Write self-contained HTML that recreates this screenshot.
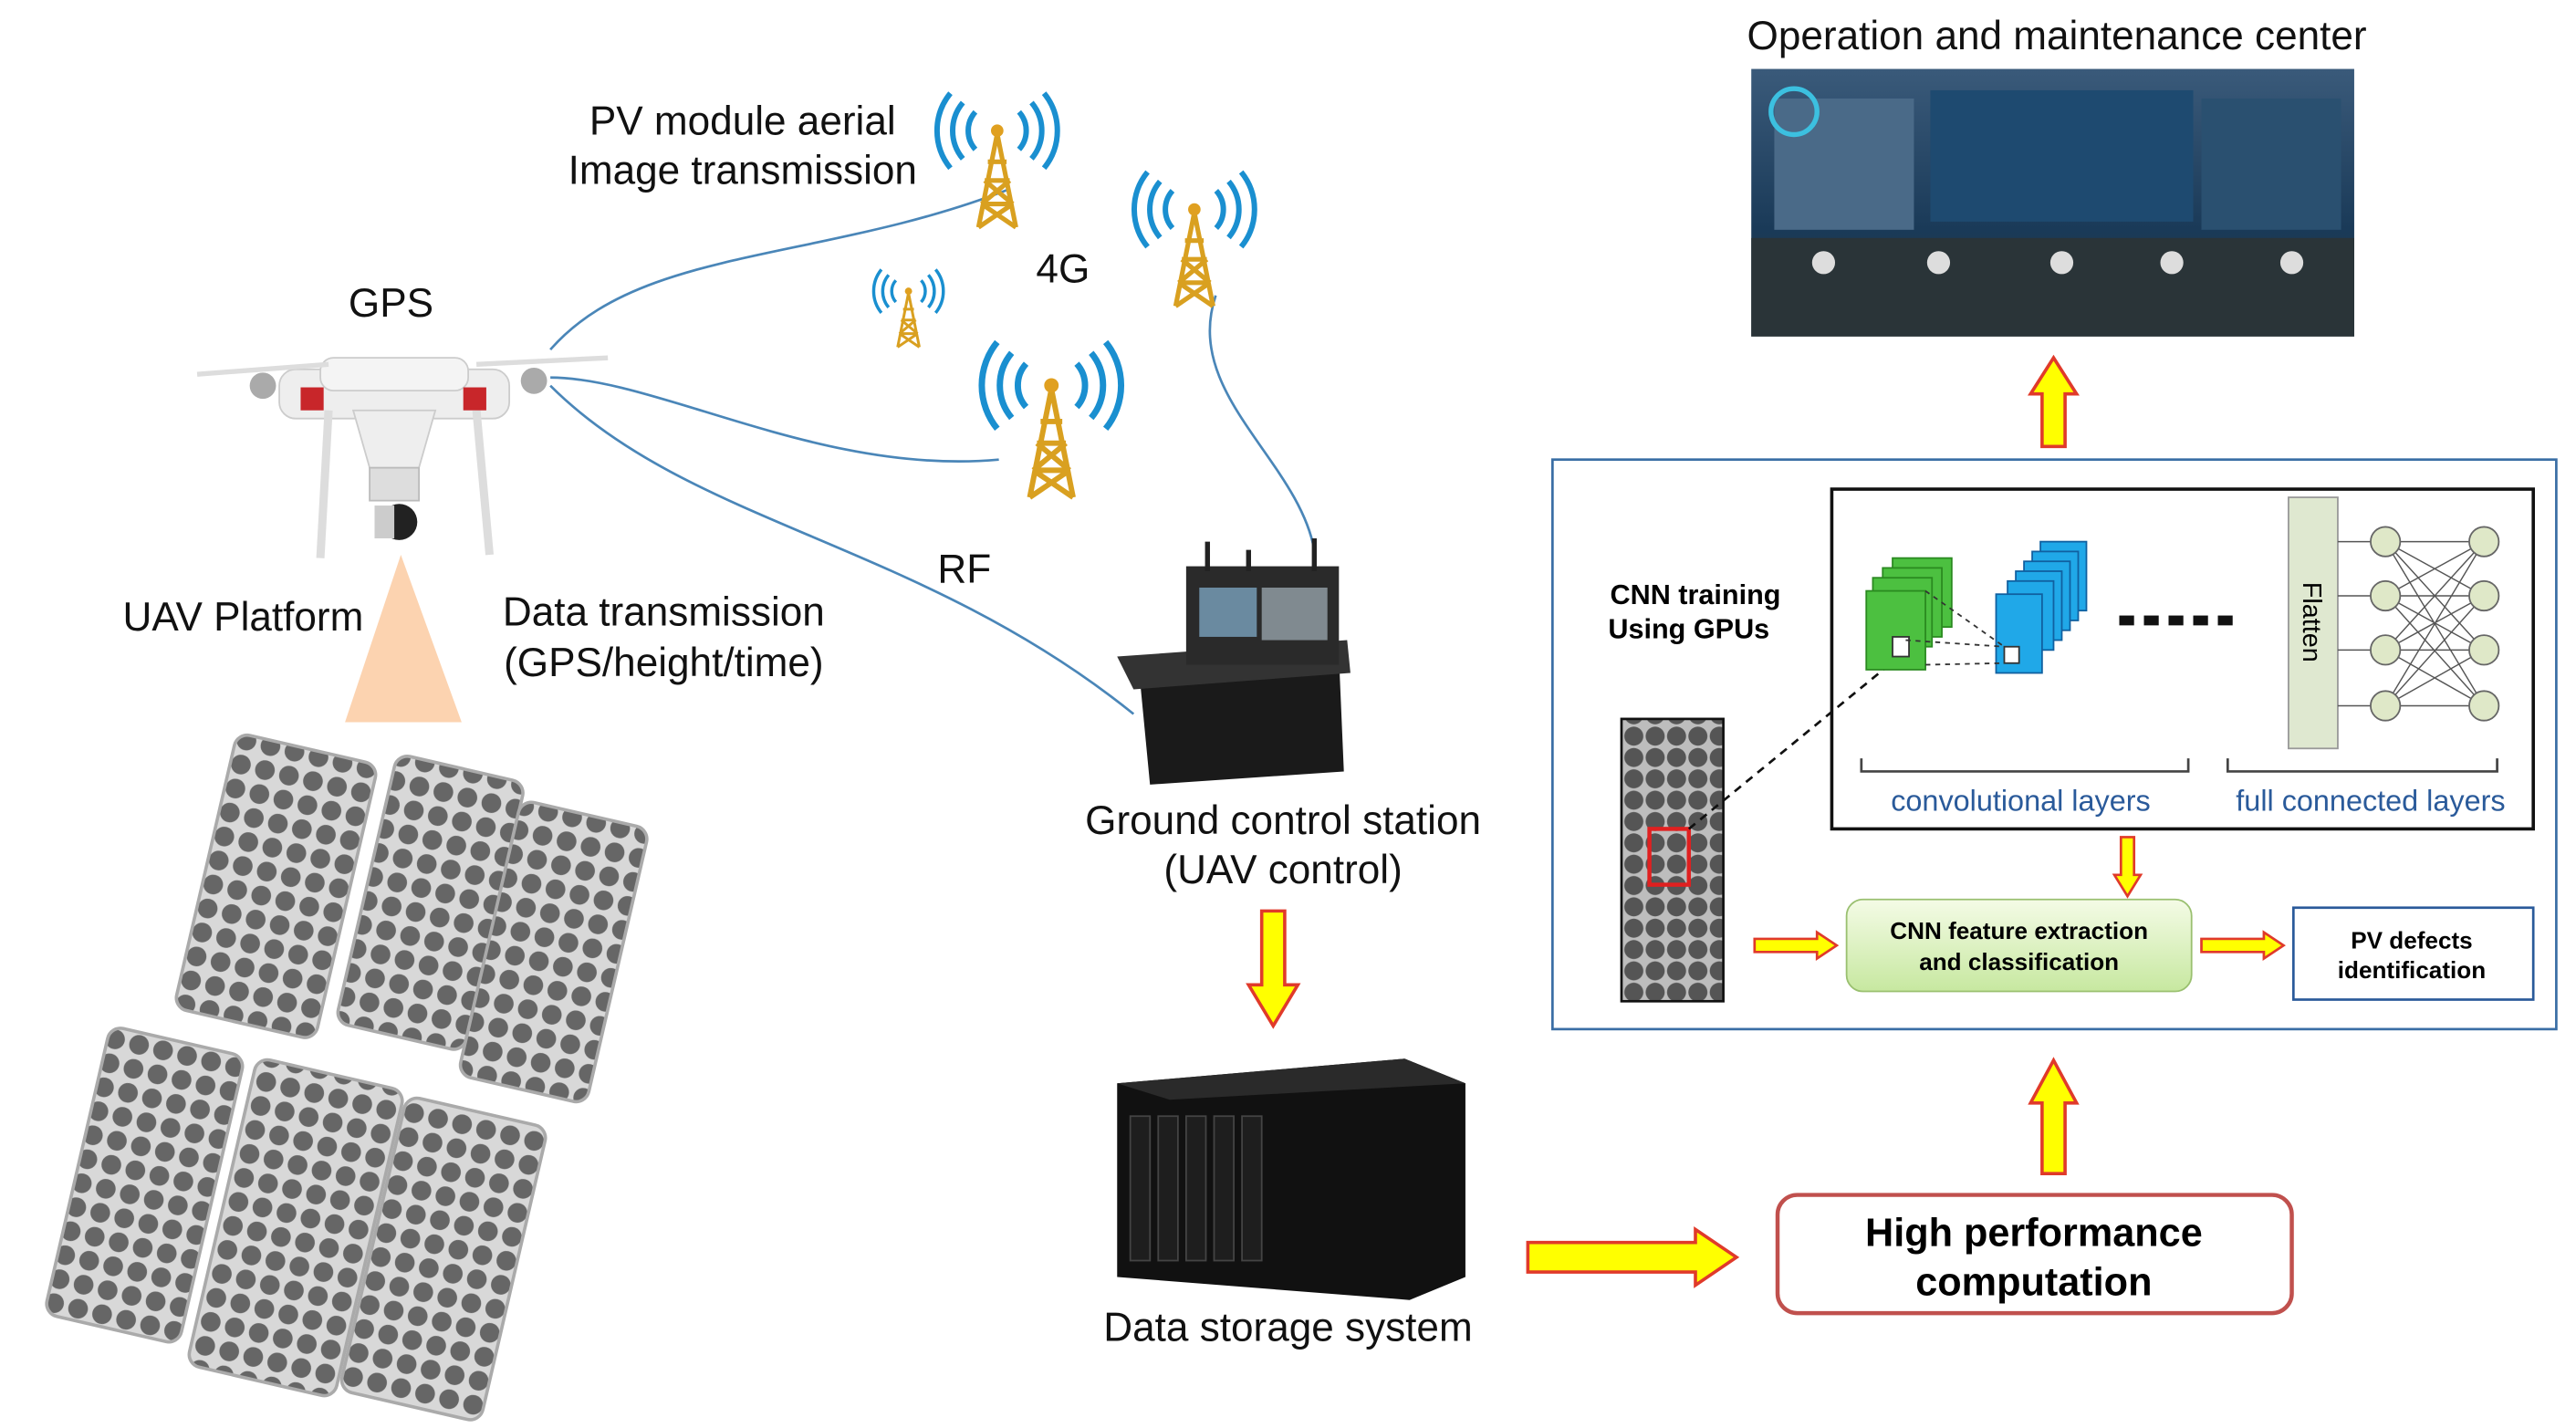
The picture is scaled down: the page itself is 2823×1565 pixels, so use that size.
<!DOCTYPE html>
<html><head><meta charset="utf-8"><style>
html,body{margin:0;padding:0;background:#fff;overflow:hidden}
svg{display:block}
text{font-family:"Liberation Sans",Arial,sans-serif}
</style></head><body>
<svg width="2823" height="1565" viewBox="0 0 1568 870" preserveAspectRatio="none" xmlns="http://www.w3.org/2000/svg">
<defs>
<pattern id="cells" width="15" height="15" patternUnits="userSpaceOnUse">
<rect width="15" height="15" fill="#d8d8d8"/>
<circle cx="7.5" cy="7.5" r="6" fill="#666"/>
</pattern>
<pattern id="cells2" width="13" height="13" patternUnits="userSpaceOnUse">
<rect width="13" height="13" fill="#bdbdbd"/>
<circle cx="6.5" cy="6.5" r="5.8" fill="#555"/>
</pattern>
<linearGradient id="scr" x1="0" y1="0" x2="0" y2="1"><stop offset="0" stop-color="#3a5a7a"/><stop offset="0.6" stop-color="#1a3a58"/><stop offset="1" stop-color="#2a3a40"/></linearGradient>
<linearGradient id="grn" x1="0" y1="0" x2="0" y2="1"><stop offset="0" stop-color="#f4fbe6"/><stop offset="1" stop-color="#c7e8a0"/></linearGradient>
<g id="tower"><path d="M0,-30 L-12,30 M0,-30 L12,30 M-8,0 L8,0 M-10,15 L10,15 M-6,-12 L6,-12 M-8,0 L10,15 M8,0 L-10,15 M-12,30 L10,15 M12,30 L-10,15" stroke="#d9a020" stroke-width="3" fill="none"/><circle cx="0" cy="-32" r="4" fill="#e0a020"/>
<path d="M-14,-44 A18,18 0 0,0 -14,-20 M14,-44 A18,18 0 0,1 14,-20 M-22,-50 A28,28 0 0,0 -22,-14 M22,-50 A28,28 0 0,1 22,-14 M-30,-56 A38,38 0 0,0 -30,-8 M30,-56 A38,38 0 0,1 30,-8" stroke="#1a8fd0" stroke-width="3.5" fill="none"/></g>
</defs>

<!-- solar panels -->
<g stroke="#aaa" stroke-width="2">
<rect x="-44" y="-86" width="88" height="172" rx="8" fill="url(#cells)" transform="translate(168,540) rotate(13)"/>
<rect x="-40" y="-84" width="80" height="168" rx="8" fill="url(#cells)" transform="translate(262,550) rotate(13)"/>
<rect x="-40" y="-86" width="80" height="172" rx="8" fill="url(#cells)" transform="translate(337,580) rotate(13)"/>
<rect x="-42" y="-90" width="84" height="180" rx="8" fill="url(#cells)" transform="translate(88,722) rotate(13)"/>
<rect x="-46" y="-96" width="92" height="192" rx="8" fill="url(#cells)" transform="translate(180,748) rotate(13)"/>
<rect x="-44" y="-92" width="88" height="184" rx="8" fill="url(#cells)" transform="translate(270,767) rotate(13)"/>
</g>

<!-- triangle -->
<polygon points="244,338 210,440 281,440" fill="#fcd3b0"/>

<!-- drone -->
<g>
<rect x="170" y="225" width="140" height="30" rx="10" fill="#eee" stroke="#ccc"/>
<rect x="195" y="218" width="90" height="20" rx="8" fill="#f4f4f4" stroke="#ccc"/>
<path d="M215,250 L265,250 L255,285 L225,285 Z" fill="#eee" stroke="#ccc"/>
<rect x="225" y="285" width="30" height="20" fill="#ddd" stroke="#bbb"/>
<circle cx="243" cy="318" r="11" fill="#222"/><rect x="228" y="308" width="12" height="20" fill="#ccc"/>
<path d="M200,250 L195,340 M290,250 L298,338" stroke="#ddd" stroke-width="5"/>
<rect x="183" y="236" width="14" height="14" fill="#c8262a"/><rect x="282" y="236" width="14" height="14" fill="#c8262a"/>
<path d="M120,228 L200,222 M290,222 L370,218" stroke="#ddd" stroke-width="3"/>
<circle cx="160" cy="235" r="8" fill="#aaa"/><circle cx="325" cy="232" r="8" fill="#aaa"/>
</g>

<!-- blue links -->
<g stroke="#4a86b8" stroke-width="1.5" fill="none">
<path d="M335,213 C390,150 500,160 615,115"/>
<path d="M335,230 C400,230 500,290 608,280"/>
<path d="M335,235 C420,320 560,330 690,435"/>
<path d="M740,180 C720,240 790,280 800,335"/>
</g>

<!-- towers -->
<use href="#tower" transform="translate(607,110) scale(0.95)"/>
<use href="#tower" transform="translate(727,158) scale(0.95)"/>
<use href="#tower" transform="translate(553,195) scale(0.55)"/>
<use href="#tower" transform="translate(640,270) scale(1.1)"/>

<!-- ground control station -->
<path d="M693,405 L815,400 L818,470 L700,478 Z" fill="#1a1a1a"/>
<path d="M680,400 L820,390 L822,410 L690,420 Z" fill="#333"/>
<rect x="722" y="345" width="93" height="60" fill="#2a2a2a"/>
<rect x="730" y="358" width="35" height="30" fill="#6a8aa0"/><rect x="768" y="358" width="40" height="32" fill="#808a90"/>
<path d="M735,330 L735,348 M800,328 L800,348 M760,335 L760,348" stroke="#222" stroke-width="3"/>

<!-- data storage -->
<path d="M680,660 L855,645 L892,660 L892,778 L858,792 L680,778 Z" fill="#111"/>
<path d="M680,660 L855,645 L892,660 L712,670 Z" fill="#2a2a2a"/>
<g fill="#1e1e1e" stroke="#444"><rect x="688" y="680" width="12" height="88"/><rect x="705" y="680" width="12" height="88"/><rect x="722" y="680" width="12" height="88"/><rect x="739" y="680" width="12" height="88"/><rect x="756" y="680" width="12" height="88"/></g>

<!-- operation center image -->
<rect x="1066" y="42" width="367" height="163" fill="url(#scr)"/>
<rect x="1080" y="60" width="85" height="80" fill="#4a6a88"/>
<rect x="1175" y="55" width="160" height="80" fill="#1e4a70"/>
<rect x="1340" y="60" width="85" height="80" fill="#2a5070"/>
<rect x="1066" y="145" width="367" height="60" fill="#2a3438"/>
<g fill="#ddd"><circle cx="1110" cy="160" r="7"/><circle cx="1180" cy="160" r="7"/><circle cx="1255" cy="160" r="7"/><circle cx="1322" cy="160" r="7"/><circle cx="1395" cy="160" r="7"/></g>
<circle cx="1092" cy="68" r="14" fill="none" stroke="#3cc0e0" stroke-width="3"/>

<!-- texts -->
<g font-size="24.5" fill="#111">
<text x="1252" y="30" text-anchor="middle">Operation and maintenance center</text>
<text x="452" y="82" text-anchor="middle">PV module aerial</text>
<text x="452" y="112" text-anchor="middle">Image transmission</text>
<text x="238" y="193" text-anchor="middle">GPS</text>
<text x="647" y="172" text-anchor="middle">4G</text>
<text x="587" y="355" text-anchor="middle">RF</text>
<text x="148" y="384" text-anchor="middle">UAV Platform</text>
<text x="404" y="381" text-anchor="middle">Data transmission</text>
<text x="404" y="412" text-anchor="middle">(GPS/height/time)</text>
<text x="781" y="508" text-anchor="middle">Ground control station</text>
<text x="781" y="538" text-anchor="middle">(UAV control)</text>
<text x="784" y="817" text-anchor="middle">Data storage system</text>
</g>

<!-- yellow arrows -->
<g fill="#ffff00" stroke="#e03a2a" stroke-width="2">
<path d="M1243,272 L1243,240 L1236,240 L1250,218 L1264,240 L1257,240 L1257,272 Z"/>
<path d="M1243,715 L1243,672 L1236,672 L1250,646 L1264,672 L1257,672 L1257,715 Z"/>
<path d="M768,555 L782,555 L782,600 L790,600 L775,625 L760,600 L768,600 Z"/>
<path d="M930,757 L1032,757 L1032,749 L1057,766 L1032,783 L1032,775 L930,775 Z"/>
</g>

<!-- HPC -->
<rect x="1082" y="728" width="313" height="72" rx="12" fill="#fff" stroke="#c0504d" stroke-width="2.5"/>
<text x="1238" y="759" text-anchor="middle" font-size="24" font-weight="bold">High performance</text>
<text x="1238" y="789" text-anchor="middle" font-size="24" font-weight="bold">computation</text>

<!-- CNN box -->
<rect x="945" y="280" width="611" height="347" fill="#fff" stroke="#3a6ea5" stroke-width="1.5"/>
<rect x="1115" y="298" width="427" height="207" fill="#fff" stroke="#111" stroke-width="2"/>
<text x="1032" y="368" text-anchor="middle" font-size="17" font-weight="bold">CNN training</text>
<text x="1028" y="389" text-anchor="middle" font-size="17" font-weight="bold">Using GPUs</text>
<rect x="987" y="438" width="62" height="172" fill="url(#cells2)" stroke="#111" stroke-width="1.5"/>
<rect x="1004" y="505" width="24" height="34" fill="none" stroke="#e02020" stroke-width="2.5"/>
<path d="M1028,505 L1150,405" stroke="#111" stroke-dasharray="5,4" stroke-width="1.5"/>
<g stroke="#2a8a20" stroke-width="1" fill="#4cc040">
<rect x="1152" y="340" width="36" height="42"/><rect x="1146" y="346" width="36" height="42"/><rect x="1140" y="352" width="36" height="42"/><rect x="1136" y="360" width="36" height="48"/>
</g>
<rect x="1152" y="388" width="10" height="12" fill="#fff" stroke="#333"/>
<g stroke="#1060a0" fill="#20a8e8">
<rect x="1242" y="330" width="28" height="42"/><rect x="1237" y="336" width="28" height="42"/><rect x="1232" y="342" width="28" height="42"/><rect x="1227" y="348" width="28" height="42"/><rect x="1222" y="354" width="28" height="42"/><rect x="1215" y="362" width="28" height="48"/>
</g>
<rect x="1220" y="394" width="9" height="10" fill="#fff" stroke="#333"/>
<g stroke="#333" stroke-dasharray="3,3" stroke-width="1"><path d="M1172,360 L1220,394 M1172,405 L1220,404 M1160,390 L1220,394"/></g>
<g fill="#111"><rect x="1290" y="375" width="9" height="6"/><rect x="1305" y="375" width="9" height="6"/><rect x="1320" y="375" width="9" height="6"/><rect x="1335" y="375" width="9" height="6"/><rect x="1350" y="375" width="9" height="6"/></g>
<rect x="1393" y="303" width="30" height="153" fill="#dfe8d0" stroke="#999"/>
<text x="1402" y="379" font-family="Liberation Serif" font-size="16" transform="rotate(90 1402 379)" text-anchor="middle">Flatten</text>
<g stroke="#555" stroke-width="0.8">
<path d="M1452,330 L1512,330 M1452,330 L1512,363 M1452,330 L1512,396 M1452,330 L1512,430 M1452,363 L1512,330 M1452,363 L1512,363 M1452,363 L1512,396 M1452,363 L1512,430 M1452,396 L1512,330 M1452,396 L1512,363 M1452,396 L1512,396 M1452,396 L1512,430 M1452,430 L1512,330 M1452,430 L1512,363 M1452,430 L1512,396 M1452,430 L1512,430 M1423,330 L1452,330 M1423,363 L1452,363 M1423,396 L1452,396 M1423,430 L1452,430"/>
</g>
<g fill="#dfe8c8" stroke="#666"><circle cx="1452" cy="330" r="9"/><circle cx="1452" cy="363" r="9"/><circle cx="1452" cy="396" r="9"/><circle cx="1452" cy="430" r="9"/><circle cx="1512" cy="330" r="9"/><circle cx="1512" cy="363" r="9"/><circle cx="1512" cy="396" r="9"/><circle cx="1512" cy="430" r="9"/></g>
<path d="M1133,462 L1133,470 L1332,470 L1332,462 M1356,462 L1356,470 L1520,470 L1520,462" fill="none" stroke="#444" stroke-width="1.5"/>
<text x="1230" y="494" text-anchor="middle" font-size="18" fill="#2a5a9a">convolutional layers</text>
<text x="1443" y="494" text-anchor="middle" font-size="18" fill="#2a5a9a">full connected layers</text>
<rect x="1124" y="548" width="210" height="56" rx="10" fill="url(#grn)" stroke="#9ac070"/>
<text x="1229" y="572" text-anchor="middle" font-size="14.5" font-weight="bold">CNN feature extraction</text>
<text x="1229" y="591" text-anchor="middle" font-size="14.5" font-weight="bold">and classification</text>
<rect x="1396" y="553" width="146" height="56" fill="#fff" stroke="#2a5a9a" stroke-width="1.5"/>
<text x="1468" y="578" text-anchor="middle" font-size="14.5" font-weight="bold">PV defects</text>
<text x="1468" y="596" text-anchor="middle" font-size="14.5" font-weight="bold">identification</text>
<g fill="#ffff00" stroke="#e03a2a" stroke-width="1.5">
<path d="M1068,572 L1106,572 L1106,568 L1118,576 L1106,584 L1106,580 L1068,580 Z"/>
<path d="M1340,572 L1378,572 L1378,568 L1390,576 L1378,584 L1378,580 L1340,580 Z"/>
<path d="M1291,510 L1299,510 L1299,533 L1303,533 L1295,546 L1287,533 L1291,533 Z"/>
</g>
</svg>
</body></html>
